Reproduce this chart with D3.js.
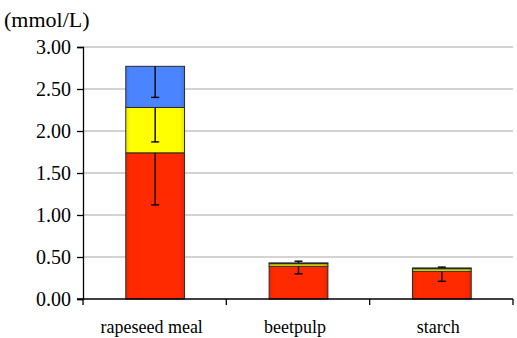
<!DOCTYPE html>
<html>
<head>
<meta charset="utf-8">
<script src="https://cdn.jsdelivr.net/npm/d3@7/dist/d3.min.js"></script>
<style>
  svg text { font-family: 'Liberation Serif', 'Times New Roman', serif !important; }
</style>
</head>
<body style="margin:0">
<svg id="fig" width="517" height="338"></svg>
<script>
// Feed categories and the three stacked components (mmol/L)
const categories = ["rapeseed meal", "beetpulp", "starch"];
const seriesNames = ["s1", "s2", "s3"];
const s1Values = [1.74, 0.39, 0.33];
const s2Values = [0.54, 0.03, 0.03];
const s3Values = [0.49, 0.01, 0.01];
// Error bars: downward from each segment top, plus an upward whisker on the stack top
const s1ErrMinus = [0.62, 0.09, 0.12];
const s2ErrMinus = [0.41, 0.00, 0.00];
const s3ErrMinus = [0.37, 0.00, 0.00];
const topErrPlus = [0.00, 0.02, 0.01];
const yTicks = [0, 0.5, 1.0, 1.5, 2.0, 2.5, 3.0];
const unitLabel = "(mmol/L)";

const colors = ["#ff2a00", "#ffff00", "#4a85ff"];
const FONT = "'Liberation Serif'";

const svg = d3.select("#fig");
const margin = { left: 83, right: 4, top: 47, bottom: 39 };
const W = 517, H = 338;
const innerW = W - margin.left - margin.right;
const innerH = H - margin.top - margin.bottom;

const x = d3.scaleBand().domain(categories).range([0, innerW]).paddingInner(0).paddingOuter(0);
const y = d3.scaleLinear().domain([0, 3]).range([innerH, 0]);
const barW = x.bandwidth() * 0.41;

const g = svg.append("g").attr("transform", `translate(${margin.left},${margin.top})`);

// horizontal gridlines
g.append("g").selectAll("line").data(yTicks.filter(d => d > 0)).join("line")
  .attr("x1", 0).attr("x2", innerW)
  .attr("y1", d => y(d)).attr("y2", d => y(d))
  .attr("stroke", "#a8a8a8").attr("stroke-width", 1.2);

// gradient for bevelled look
const defs = svg.append("defs");
colors.forEach((c, i) => {
  const lg = defs.append("linearGradient").attr("id", "grad" + i)
    .attr("x1", "0").attr("x2", "1").attr("y1", "0").attr("y2", "0");
  const base = d3.color(c);
  lg.append("stop").attr("offset", "0").attr("stop-color", base.darker(0.25));
  lg.append("stop").attr("offset", "0.08").attr("stop-color", base);
  lg.append("stop").attr("offset", "0.92").attr("stop-color", base);
  lg.append("stop").attr("offset", "1").attr("stop-color", base.darker(0.35));
});

const rows = categories.map((c, i) => ({ cat: c, s1: s1Values[i], s2: s2Values[i], s3: s3Values[i] }));
const stack = d3.stack().keys(seriesNames)(rows);
const errMinus = [s1ErrMinus, s2ErrMinus, s3ErrMinus];
const barCenter = c => x(c) + x.bandwidth() / 2 + 0.5;

const capW = 8;
stack.forEach((layer, li) => {
  const lg = g.append("g");
  lg.selectAll("rect").data(layer).join("rect")
    .attr("x", d => barCenter(d.data.cat) - barW / 2)
    .attr("width", barW)
    .attr("y", d => y(d[1]))
    .attr("height", d => Math.max(0.5, y(d[0]) - y(d[1])))
    .attr("fill", `url(#grad${li})`)
    .attr("stroke", "#2a2a2a").attr("stroke-width", 1);
  // minus error bars for this segment
  layer.forEach((d, ci) => {
    const e = errMinus[li][ci];
    if (e <= 0) return;
    const cx = barCenter(d.data.cat);
    const yTop = y(d[1]), yLow = y(d[1] - e);
    lg.append("line").attr("x1", cx).attr("x2", cx).attr("y1", yTop).attr("y2", yLow)
      .attr("stroke", "#000").attr("stroke-width", 1.4);
    lg.append("line").attr("x1", cx - capW / 2).attr("x2", cx + capW / 2).attr("y1", yLow).attr("y2", yLow)
      .attr("stroke", "#000").attr("stroke-width", 1.4);
  });
});

// upward whisker on stack tops
const topLayer = stack[stack.length - 1];
topLayer.forEach((d, ci) => {
  const e = topErrPlus[ci];
  if (e <= 0) return;
  const cx = barCenter(d.data.cat);
  const yHi = y(d[1] + e);
  g.append("line").attr("x1", cx).attr("x2", cx).attr("y1", y(d[1])).attr("y2", yHi)
    .attr("stroke", "#000").attr("stroke-width", 1.4);
  g.append("line").attr("x1", cx - capW / 2).attr("x2", cx + capW / 2).attr("y1", yHi).attr("y2", yHi)
    .attr("stroke", "#000").attr("stroke-width", 1.4);
});

// y axis
const yAxis = g.append("g")
  .call(d3.axisLeft(y).tickValues(yTicks).tickFormat(d3.format(".2f")).tickSize(6).tickPadding(6));
yAxis.select(".domain").attr("stroke", "#000").attr("stroke-width", 1.3);
yAxis.selectAll(".tick line").attr("stroke", "#000").attr("stroke-width", 1.3);
yAxis.selectAll("text").attr("font-size", 20).attr("fill", "#000").style("font-family", FONT);

// x axis with ticks at category boundaries
const xAxisG = g.append("g").attr("transform", `translate(0,${innerH})`);
xAxisG.append("line").attr("x1", -6).attr("x2", innerW).attr("y1", 0).attr("y2", 0)
  .attr("stroke", "#000").attr("stroke-width", 1.3);
const bounds = categories.map(c => x(c)).concat([innerW]);
xAxisG.selectAll(".bt").data(bounds).join("line").attr("class", "bt")
  .attr("x1", d => d).attr("x2", d => d).attr("y1", 0).attr("y2", 6)
  .attr("stroke", "#000").attr("stroke-width", 1.3);
xAxisG.selectAll(".cl").data(categories).join("text").attr("class", "cl")
  .attr("x", d => x(d) + x.bandwidth() / 2 - 3)
  .attr("y", 34)
  .attr("text-anchor", "middle")
  .attr("font-size", 18)
  .attr("fill", "#000")
  .style("font-family", FONT)
  .text(d => d);

// unit label
svg.append("text").attr("x", 4).attr("y", 27).attr("font-size", 22).attr("fill", "#000")
  .style("font-family", FONT).text(unitLabel);
</script>
</body>
</html>
